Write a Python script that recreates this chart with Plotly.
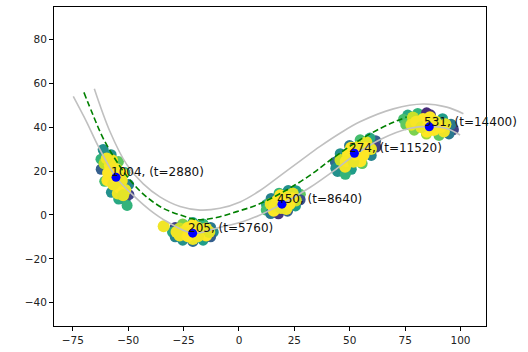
import plotly.graph_objects as go

# ---- road / path curves ----
upper_x = [-65.3, -58.2, -50.7, -43.2, -35.7, -26.6, -17.6, -8.6, 0.5, 9.5, 18.5, 27.5, 36.6, 45.6, 54.6, 69.7, 83.2, 93.8, 101.3]
upper_y = [57.5, 37.9, 23.0, 14.1, 8.2, 3.8, 2.2, 3.0, 5.9, 11.1, 17.8, 24.5, 31.2, 37.2, 42.4, 48.3, 50.5, 49.1, 46.1]

lower_x = [-74.8, -68.8, -63.5, -55.5, -47.0, -40.2, -32.6, -21.0, -8.6, 1.9, 9.5, 19.4, 32.0, 44.0, 52.5, 64.0, 77.2, 86.0, 93.8, 99.8]
lower_y = [54.0, 42.4, 31.2, 17.1, 8.2, 2.2, -3.0, -8.3, -5.6, -3.0, 0.0, 4.9, 12.5, 21.0, 27.5, 34.5, 39.5, 40.3, 39.4, 36.4]

path_x = [-70.0, -65.8, -61.3, -54.0, -47.7, -41.7, -34.2, -26.6, -18.5, -10.1, -1.0, 8.0, 20.0, 32.0, 42.6, 54.6, 64.0, 69.7, 75.7]
path_y = [55.8, 45.3, 34.9, 22.5, 14.1, 8.2, 3.0, 0.0, -2.2, -1.2, 1.5, 4.5, 10.5, 18.0, 26.0, 34.2, 39.5, 42.2, 44.6]

# ---- particle clouds (rim first, then core) ----
c1_x = [-51.4, -49.7, -49.8, -51.5, -54.4, -57.7, -60.6, -62.3, -62.2, -60.6, -57.6, -54.3, -50.5, -61.3,
        -51.3, -52.6, -57.3, -60.7, -59.4, -54.7,
        -53.7, -52.9, -55.2, -58.3, -59.1, -56.8, -56.0, -52.3, -59.7]
c1_y = [6.8, 9.2, 13.8, 19.3, 24.3, 27.4, 27.8, 25.4, 20.8, 15.3, 10.3, 7.2, 4.3, 29.8,
        11.3, 18.8, 24.9, 23.4, 15.8, 9.8,
        12.1, 15.6, 20.8, 22.5, 19.1, 13.8, 17.3, 8.9, 25.7]
c1_v = [0.35, 0.2, 0.45, 0.6, 0.75, 0.5, 0.55, 0.65, 0.3, 0.7, 0.5, 0.6, 0.65, 0.5,
        0.97, 1.0, 0.98, 0.9, 1.0, 0.97,
        1.0, 0.98, 1.0, 0.99, 1.0, 0.98, 1.0, 0.96, 0.98]

c2_x = [-11.6, -12.8, -16.2, -20.8, -25.4, -28.8, -30.0, -28.8, -25.4, -20.8, -16.2, -12.8, -34.0,
        -14.8, -20.8, -26.8, -26.8, -20.8, -14.8,
        -16.2, -18.5, -23.1, -25.4, -23.1, -18.5, -20.8, -13.4, -28.2]
c2_y = [-7.8, -5.7, -4.1, -3.5, -4.1, -5.7, -7.8, -10.0, -11.5, -12.1, -11.5, -10.0, -5.2,
        -6.2, -4.6, -6.2, -9.4, -11.0, -9.4,
        -7.8, -5.9, -5.9, -7.8, -9.7, -9.7, -7.8, -7.8, -7.8]
c2_v = [0.5, 0.4, 0.65, 0.55, 0.8, 0.2, 0.6, 0.45, 0.5, 0.35, 0.55, 0.3, 0.98,
        0.97, 1.0, 0.92, 0.98, 0.97, 1.0,
        1.0, 0.98, 1.0, 0.99, 1.0, 0.98, 1.0, 0.96, 0.98]

c3_x = [27.7, 25.7, 22.2, 18.1, 14.5, 12.4, 12.3, 14.3, 17.8, 21.9, 25.5, 27.6,
        24.3, 18.6, 14.3, 15.7, 21.4, 25.7,
        23.9, 21.1, 17.3, 16.2, 18.9, 22.8, 20.0]
c3_y = [9.4, 11.0, 11.1, 9.9, 7.5, 4.7, 2.2, 0.6, 0.5, 1.7, 4.1, 6.9,
        9.7, 8.9, 5.0, 1.9, 2.7, 6.6,
        7.6, 8.5, 6.7, 4.0, 3.1, 4.9, 5.8]
c3_v = [0.75, 0.55, 0.5, 0.65, 0.45, 0.6, 0.7, 0.4, 0.15, 0.3, 0.55, 0.25,
        0.95, 1.0, 0.97, 1.0, 0.98, 0.92,
        1.0, 0.98, 1.0, 0.99, 0.97, 1.0, 1.0]

c4_x = [61.7, 59.1, 54.7, 49.9, 45.7, 43.5, 43.7, 46.3, 50.7, 55.6, 59.7, 61.9, 44.5, 48.0,
        57.5, 50.6, 45.8, 47.9, 54.8, 59.6,
        57.2, 53.7, 49.2, 48.2, 51.7, 56.2, 52.7]
c4_y = [33.8, 35.0, 34.2, 31.6, 27.9, 24.1, 21.2, 20.0, 20.8, 23.4, 27.1, 30.9, 19.8, 18.5,
        33.1, 30.6, 25.0, 21.9, 24.4, 30.0,
        30.6, 30.9, 27.7, 24.4, 24.2, 27.3, 27.5]
c4_v = [0.3, 0.6, 0.7, 0.4, 0.5, 0.35, 0.5, 0.65, 0.55, 0.75, 0.45, 0.2, 0.5, 0.65,
        0.96, 1.0, 0.92, 0.98, 1.0, 0.97,
        1.0, 0.98, 1.0, 0.99, 0.97, 1.0, 1.0]

c5_x = [96.8, 95.7, 91.9, 86.4, 80.7, 76.2, 74.3, 75.3, 79.1, 84.6, 90.3, 94.8, 84.7,
        93.2, 86.2, 78.5, 77.8, 84.8, 92.5,
        91.1, 88.7, 83.1, 79.9, 82.3, 87.9, 85.5]
c5_y = [38.8, 41.3, 43.8, 45.6, 46.2, 45.5, 43.6, 41.1, 38.6, 36.8, 36.2, 36.9, 46.5,
        41.3, 44.5, 44.4, 41.1, 37.9, 38.0,
        40.0, 42.5, 43.7, 42.4, 39.9, 38.7, 41.2]
c5_v = [0.2, 0.4, 0.55, 0.15, 0.65, 0.6, 0.7, 0.75, 0.8, 0.85, 0.75, 0.4, 0.12,
        0.96, 1.0, 0.92, 0.97, 1.0, 0.98,
        1.0, 0.98, 1.0, 0.99, 0.97, 1.0, 1.0]

# ---- cluster means and labels ----
mean_x = [-55.5, -20.9, 19.4, 52.1, 85.9]
mean_y = [17.1, -8.3, 4.9, 28.1, 40.1]
counts = [1004, 205, 450, 274, 531]
times = [2880, 5760, 8640, 11520, 14400]

x_ticks = [-75, -50, -25, 0, 25, 50, 75, 100]
y_ticks = [-40, -20, 0, 20, 40, 60, 80]

fig = go.Figure()

for cx, cy, cv in [(c1_x, c1_y, c1_v), (c2_x, c2_y, c2_v), (c3_x, c3_y, c3_v), (c4_x, c4_y, c4_v), (c5_x, c5_y, c5_v)]:
    sizes = [12 if v >= 0.9 else 11 for v in cv]
    fig.add_trace(go.Scatter(
        x=cx, y=cy, mode="markers", hoverinfo="skip",
        marker=dict(size=sizes, opacity=1, color=cv, colorscale="Viridis", cmin=0, cmax=1, line=dict(width=0)),
    ))

fig.add_trace(go.Scatter(x=upper_x, y=upper_y, mode="lines", line=dict(color="#c0c0c0", width=1.6, shape="spline"), hoverinfo="skip"))
fig.add_trace(go.Scatter(x=lower_x, y=lower_y, mode="lines", line=dict(color="#c0c0c0", width=1.6, shape="spline"), hoverinfo="skip"))
fig.add_trace(go.Scatter(x=path_x, y=path_y, mode="lines", line=dict(color="#008000", width=1.6, dash="6px,3px", shape="spline"), hoverinfo="skip"))

fig.add_trace(go.Scatter(x=mean_x, y=mean_y, mode="markers", marker=dict(size=9, opacity=1, color="#0000ff", line=dict(width=0))))

for mx, my, n, t in zip(mean_x, mean_y, counts, times):
    fig.add_annotation(x=mx, y=my, text=f"{n}, (t={t})", showarrow=False,
                       xanchor="left", yanchor="middle", xshift=-7, yshift=5,
                       font=dict(family="DejaVu Sans", size=12, color="#111111"))

axis_common = dict(showline=True, linecolor="#000000", linewidth=1, mirror=True,
                   ticks="outside", ticklen=4, tickwidth=1, tickcolor="#000000",
                   showgrid=False, zeroline=False,
                   tickfont=dict(family="DejaVu Sans", size=10.5, color="#222222"))

fig.update_xaxes(range=[-83.5, 111.5], tickvals=x_ticks, **axis_common)
fig.update_yaxes(range=[-50.6, 94.7], tickvals=y_ticks, **axis_common)

fig.update_layout(width=528, height=352, margin=dict(l=54, r=42, t=6, b=20),
                  plot_bgcolor="white", paper_bgcolor="white", showlegend=False)

fig.write_html("out.html")
